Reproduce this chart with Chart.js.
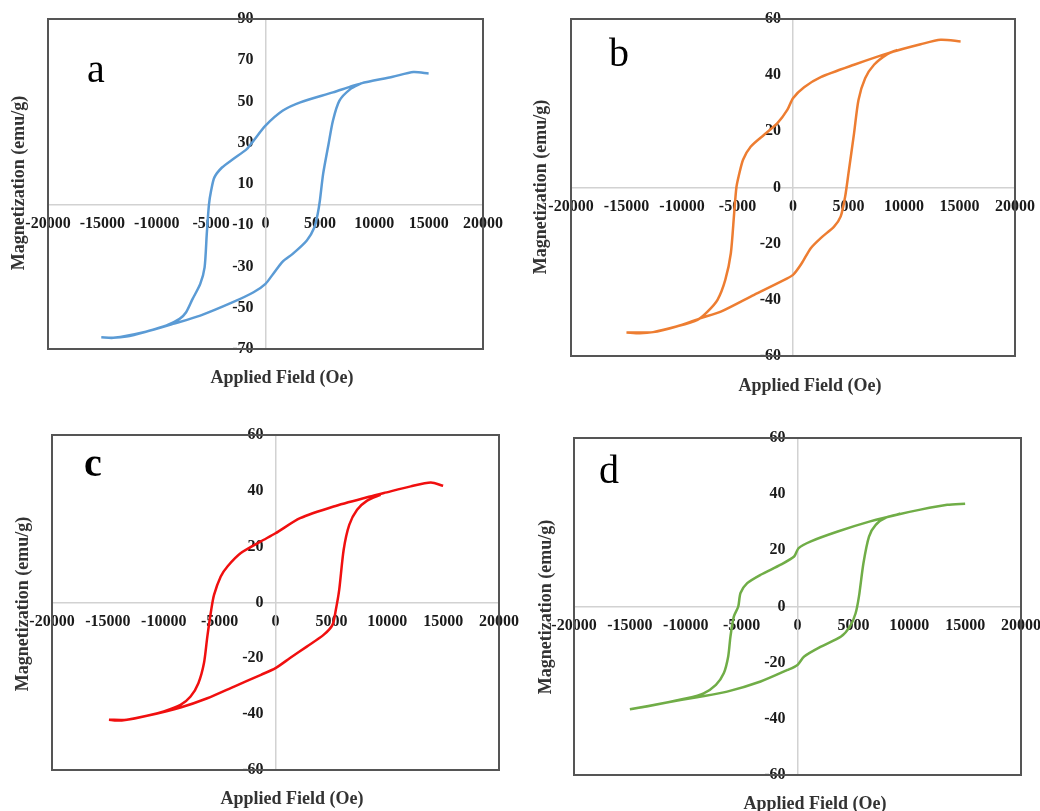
<!DOCTYPE html>
<html>
<head>
<meta charset="utf-8">
<script src="https://cdn.jsdelivr.net/npm/chart.js@4.4.1/dist/chart.umd.min.js"></script>
<style>
    body { margin: 0; width: 1040px; height: 811px; overflow: hidden; background: #fff; position: relative; }
    canvas { position: absolute; }
    .panel-letter { position: absolute; font-family: 'Liberation Serif', serif; font-size: 40px; line-height: 40px; color: #000; }
    .axis-title { position: absolute; font-family: 'Liberation Serif', serif; font-weight: bold; font-size: 18px; color: #333333; white-space: nowrap; transform: translate(-50%, -50%); }
    .axis-title.vertical { transform: translate(-50%, -50%) rotate(-90deg); }
</style>
</head>
<body>
<canvas id="chartA" width="520" height="400" style="left:0;top:0"></canvas>
<canvas id="chartB" width="560" height="400" style="left:520px;top:0"></canvas>
<canvas id="chartC" width="540" height="401" style="left:0;top:410px"></canvas>
<canvas id="chartD" width="560" height="401" style="left:520px;top:410px"></canvas>

<div class="panel-letter" style="left:87px;top:49px">a</div>
<div class="panel-letter" style="left:609px;top:33px">b</div>
<div class="panel-letter" style="left:84px;top:443px;font-weight:bold">c</div>
<div class="panel-letter" style="left:599px;top:450px">d</div>

<div class="axis-title vertical" style="left:18px;top:183px">Magnetization (emu/g)</div>
<div class="axis-title vertical" style="left:540px;top:187px">Magnetization (emu/g)</div>
<div class="axis-title vertical" style="left:22px;top:604px">Magnetization (emu/g)</div>
<div class="axis-title vertical" style="left:545px;top:607px">Magnetization (emu/g)</div>
<div class="axis-title" style="left:282px;top:377px">Applied Field (Oe)</div>
<div class="axis-title" style="left:810px;top:385px">Applied Field (Oe)</div>
<div class="axis-title" style="left:292px;top:798px">Applied Field (Oe)</div>
<div class="axis-title" style="left:815px;top:803px">Applied Field (Oe)</div>

<script>
// tick values
const fieldTicks = [-20000, -15000, -10000, -5000, 0, 5000, 10000, 15000, 20000];
const magTicksA = [-70, -50, -30, -10, 10, 30, 50, 70, 90];
const magTicksBCD = [-60, -40, -20, 0, 20, 40, 60];

// sample a: descending branch (+H -> -H) and ascending branch (-H -> +H)
const aFieldDown = [15000, 13600, 11700, 8800, 7800, 6200, 3200, 1600, 0, -1100, -1700, -3000, -4000, -4700, -5000, -5200, -5400, -5600, -6000, -6700, -7300, -7900, -9100, -11000, -12800, -14000, -15100];
const aMagDown = [63.6, 64.3, 62, 58.8, 57.2, 54.4, 49.6, 45.6, 38.3, 31, 27, 22, 18, 13.2, 6.8, 0, -14.2, -30.4, -38.4, -45.7, -52.2, -55.4, -58.6, -61.6, -64, -64.6, -64.3];
const aFieldUp = [-15100, -14000, -11000, -8500, -6000, -3000, -1100, 0, 700, 1600, 2500, 3800, 4500, 4800, 5000, 5300, 5800, 6200, 6800, 7800, 8800];
const aMagUp = [-64.3, -64.6, -61.6, -57.8, -53.8, -47.3, -42.5, -38.4, -33.6, -27.5, -23.9, -17.4, -11, -4.5, 1.9, 14.9, 29.4, 40.7, 50.4, 56, 58.8];

// sample b
const bFieldDown = [15100, 13300, 11500, 8800, 5500, 2500, 1000, 0, -500, -1400, -2600, -3800, -4500, -4900, -5100, -5300, -5600, -6100, -6800, -7700, -8600, -10500, -12600, -13800, -15000];
const bMagDown = [52, 52.6, 51, 48.1, 43.7, 39.3, 35.7, 31.8, 27.7, 22.9, 18.8, 14.6, 9.9, 3.9, 0, -9.1, -23.4, -32.9, -40, -44.2, -47.1, -49.5, -51.5, -51.9, -51.6];
const bFieldUp = [-15000, -12600, -10500, -8300, -6500, -3500, -1100, 0, 800, 1600, 2500, 3700, 4300, 4700, 5000, 5500, 5900, 6500, 7300, 8500, 9400];
const bMagUp = [-51.6, -51.5, -49.5, -46.5, -44.2, -38.2, -33.5, -31.1, -26.9, -21.6, -18, -13.9, -10.3, -3.2, 5.1, 19.3, 31.2, 38.9, 43.7, 47.5, 49];

// sample c
const cFieldDown = [15000, 13900, 12100, 9700, 8200, 5200, 2200, 0, -1300, -3100, -4300, -4900, -5500, -5750, -6100, -6400, -6900, -7600, -8500, -10000, -11500, -13300, -14200, -14900];
const cMagDown = [41.8, 43, 41.6, 39.2, 37.7, 34.4, 30.2, 24.8, 21.9, 17.7, 12.9, 9.3, 2.7, -2.6, -12.2, -21.7, -28.9, -33.7, -36.7, -39, -40.6, -42, -42.3, -42];
const cFieldUp = [-14900, -13300, -11500, -8500, -6100, -3700, -1300, 0, 1300, 2800, 4300, 5100, 5400, 5700, 6100, 6600, 7300, 8200, 9400];
const cMagUp = [-42, -42, -40.6, -37.6, -34.3, -30.1, -25.9, -23.5, -19.9, -15.8, -11.6, -8, -2.6, 4.5, 18.9, 27.8, 33.2, 36.5, 38.6];

// sample d
const dFieldDown = [15000, 13400, 11000, 8900, 6500, 3600, 1200, 100, -300, -1500, -3300, -4500, -5100, -5300, -5700, -6000, -6200, -6600, -7300, -8400, -9900, -11700, -13500, -15000];
const dMagDown = [36.6, 36.2, 34.5, 32.7, 30.3, 26.7, 23.2, 20.8, 17.8, 14.9, 11.3, 8.3, 4.8, 0, -3.6, -10.7, -17.8, -23.8, -27.9, -30.9, -32.7, -34.2, -35.6, -36.6];
const dFieldUp = [-15000, -11700, -9000, -6300, -3300, -900, 0, 600, 2100, 3900, 4700, 5200, 5500, 5900, 6400, 7000, 8000, 9200];
const dMagUp = [-36.6, -34.2, -32.3, -30.3, -26.7, -22.6, -20.8, -17.8, -14.3, -10.7, -7.1, -2.4, 3.6, 15.4, 24.9, 29.1, 31.8, 33];

const tickFont = { family: 'Liberation Serif', size: 16, weight: 'bold' };

// plot frame around the chart area
const frameBorder = {
    id: 'frameBorder',
    afterDraw(chart) {
        const { ctx, chartArea: a } = chart;
        ctx.save();
        ctx.strokeStyle = '#555555';
        ctx.lineWidth = 2;
        ctx.strokeRect(a.left, a.top, a.right - a.left, a.bottom - a.top);
        ctx.restore();
    }
};

function toPoints(xs, ys) {
    return xs.map((x, i) => ({ x: x, y: ys[i] }));
}

function makeLoop(canvasId, color, down, up, magTicks, padding) {
    const loop = toPoints(down[0], down[1]).concat(toPoints(up[0], up[1]));
    return new Chart(document.getElementById(canvasId), {
        type: 'scatter',
        data: {
            datasets: [{
                data: loop,
                showLine: true,
                borderColor: color,
                borderWidth: 2.5,
                pointRadius: 0,
                tension: 0.25
            }]
        },
        options: {
            responsive: false,
            animation: false,
            layout: { padding: padding },
            plugins: { legend: { display: false }, tooltip: { enabled: false } },
            scales: {
                x: {
                    type: 'linear',
                    min: fieldTicks[0],
                    max: fieldTicks[fieldTicks.length - 1],
                    position: { y: 0 },
                    afterBuildTicks: s => { s.ticks = fieldTicks.map(v => ({ value: v })); },
                    ticks: { autoSkip: false, maxRotation: 0, padding: 10, font: tickFont, color: '#1a1a1a', callback: v => String(v) },
                    grid: { display: false, drawTicks: false },
                    border: { display: true, color: '#d2d2d2', width: 1.5 }
                },
                y: {
                    type: 'linear',
                    min: magTicks[0],
                    max: magTicks[magTicks.length - 1],
                    position: { x: 0 },
                    afterBuildTicks: s => { s.ticks = magTicks.map(v => ({ value: v })); },
                    // centred axis ignores ticks.padding, so keep a small gap in the label itself
                    ticks: { autoSkip: false, font: tickFont, color: '#1a1a1a', callback: v => v + '\u2002\u2005' },
                    grid: { display: false, drawTicks: false },
                    border: { display: true, color: '#d2d2d2', width: 1.5 }
                }
            }
        },
        plugins: [frameBorder]
    });
}

makeLoop('chartA', '#5b9bd5', [aFieldDown, aMagDown], [aFieldUp, aMagUp], magTicksA, { left: 48, top: 19, right: 37, bottom: 51 });
makeLoop('chartB', '#ed7d31', [bFieldDown, bMagDown], [bFieldUp, bMagUp], magTicksBCD, { left: 51, top: 19, right: 65, bottom: 44 });
makeLoop('chartC', '#f00f0f', [cFieldDown, cMagDown], [cFieldUp, cMagUp], magTicksBCD, { left: 52, top: 25, right: 41, bottom: 41 });
makeLoop('chartD', '#70ad47', [dFieldDown, dMagDown], [dFieldUp, dMagUp], magTicksBCD, { left: 54, top: 28, right: 59, bottom: 36 });
</script>
</body>
</html>
